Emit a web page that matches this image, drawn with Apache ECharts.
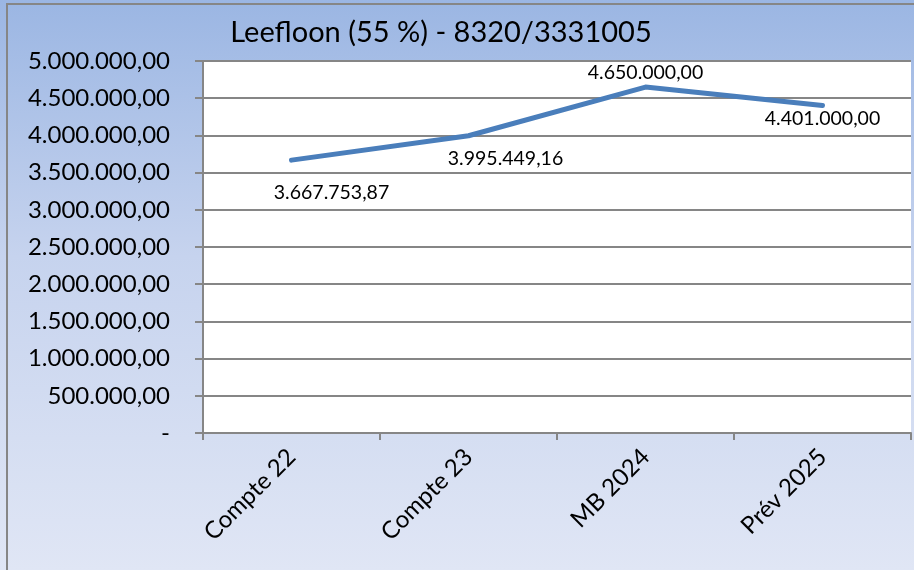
<!DOCTYPE html>
<html>
<head>
<meta charset="utf-8">
<script src="https://cdn.jsdelivr.net/npm/echarts@6/dist/echarts.min.js"></script>
<style>
html,body{margin:0;padding:0;background:#fff;}
#chart{width:914px;height:570px;}
</style>
</head>
<body>
<div id="chart"></div>
<script>
const titleText = 'Leefloon (55 %) - 8320/3331005';
const categories = ['Compte 22', 'Compte 23', 'MB 2024', 'Prév 2025'];
const values = [3667753.87, 3995449.16, 4650000.00, 4401000.00];
const yMin = 0, yMax = 5000000, yStep = 500000;

function fmt(v) {
  if (v === 0) return '-';
  const parts = v.toFixed(2).split('.');
  const intPart = parts[0].replace(/\B(?=(\d{3})+(?!\d))/g, '.');
  return intPart + ',' + parts[1];
}

const labelPlacement = [
  {position: 'bottom', offset: [40, 11]},
  {position: 'bottom', offset: [37, 1]},
  {position: 'top', offset: [0, 8]},
  {position: 'bottom', offset: [0, -9]}
];

const chart = echarts.init(document.getElementById('chart'), null, {renderer: 'canvas'});
const FONT = 'Lato';
chart.setOption({
  animation: false,
  backgroundColor: {
    type: 'linear', x: 0, y: 0, x2: 0, y2: 1,
    colorStops: [
      {offset: 0, color: '#9bb6e3'},
      {offset: 0.45, color: '#c6d3ee'},
      {offset: 1, color: '#e0e6f5'}
    ]
  },
  graphic: [{
    type: 'rect',
    shape: {x: 7, y: 4, width: 920, height: 580},
    style: {fill: 'none', stroke: '#868686', lineWidth: 2},
    silent: true
  }],
  title: {
    text: titleText,
    left: 436, top: 13, textAlign: 'center',
    textStyle: {fontFamily: FONT, fontSize: 29, fontWeight: 'normal', color: '#000'}
  },
  grid: {left: 203, right: 3, top: 61, bottom: 137, show: true, backgroundColor: '#ffffff', borderWidth: 0},
  xAxis: {
    type: 'category',
    data: categories,
    boundaryGap: true,
    axisLine: {lineStyle: {color: '#868686', width: 2}},
    axisTick: {show: true, length: 7, lineStyle: {color: '#868686', width: 2}},
    axisLabel: {rotate: 45, margin: 20, fontFamily: FONT, fontSize: 24, color: '#000'}
  },
  yAxis: {
    type: 'value',
    min: yMin, max: yMax, interval: yStep,
    axisLine: {show: true, lineStyle: {color: '#868686', width: 2}},
    axisTick: {show: true, length: 8, lineStyle: {color: '#868686', width: 2}},
    splitLine: {lineStyle: {color: '#868686', width: 2}},
    axisLabel: {margin: 33, fontFamily: FONT, fontSize: 24, color: '#000', formatter: v => fmt(v)}
  },
  series: [{
    type: 'line',
    data: values.map((v, i) => ({
      value: v,
      label: {show: true, position: labelPlacement[i].position, offset: labelPlacement[i].offset}
    })),
    symbol: 'circle',
    symbolSize: 0,
    showSymbol: true,
    lineStyle: {color: '#4a7ebb', width: 5, cap: 'round', join: 'round'},
    itemStyle: {color: '#4a7ebb'},
    label: {
      show: true, fontFamily: FONT, fontSize: 19.5, color: '#000', distance: 12,
      formatter: p => fmt(p.value)
    }
  }]
});
</script>
</body>
</html>
